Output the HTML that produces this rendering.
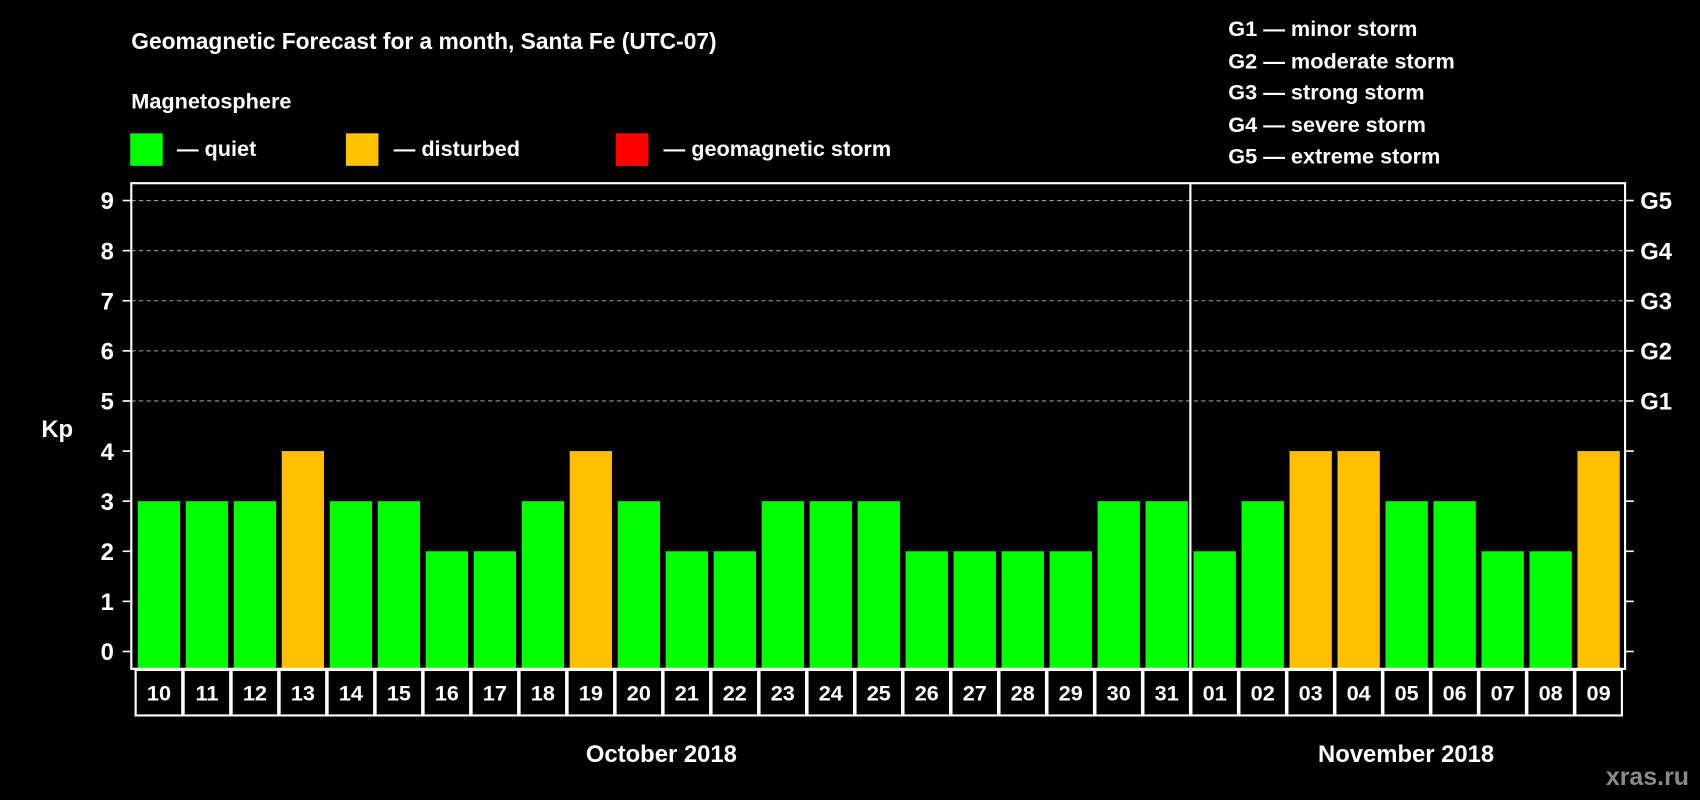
<!DOCTYPE html>
<html><head><meta charset="utf-8"><style>
html,body{margin:0;padding:0;background:#000;}
svg{display:block;font-family:"Liberation Sans",Arial,sans-serif;font-weight:bold;}
</style></head><body>
<svg id="chart" width="1700" height="800" viewBox="0 0 1568 738" xmlns="http://www.w3.org/2000/svg">
<rect width="1568" height="738" fill="#000"/>
<text x="121" y="45" fill="#fff" font-size="21">Geomagnetic Forecast for a month, Santa Fe (UTC-07)</text>
<text x="121" y="100" fill="#fff" font-size="20">Magnetosphere</text>
<g><rect x="120" y="123" width="30" height="30" fill="#00ff00"/><text x="163" y="144" fill="#fff" font-size="20">— quiet</text></g>
<g><rect x="319" y="123" width="30" height="30" fill="#ffc000"/><text x="363" y="144" fill="#fff" font-size="20">— disturbed</text></g>
<g><rect x="568" y="123" width="30" height="30" fill="#ff0000"/><text x="612" y="144" fill="#fff" font-size="20">— geomagnetic storm</text></g>
<g fill="#fff" font-size="20">
<text x="1133" y="33">G1 — minor storm</text>
<text x="1133" y="63">G2 — moderate storm</text>
<text x="1133" y="92">G3 — strong storm</text>
<text x="1133" y="122">G4 — severe storm</text>
<text x="1133" y="151">G5 — extreme storm</text>
</g>
<text x="38" y="403" fill="#fff" font-size="22">Kp</text>
<g id="grid"></g>
<g id="bars"></g>
<g id="xlabels"></g>
<rect x="121" y="169" width="1378" height="448" fill="none" stroke="#fff" stroke-width="2"/>
<line x1="1098" y1="169" x2="1098" y2="660" stroke="#fff" stroke-width="2"/>
<text x="610" y="703" fill="#fff" font-size="22" text-anchor="middle">October 2018</text>
<text x="1297" y="703" fill="#fff" font-size="22" text-anchor="middle">November 2018</text>
<text x="1558" y="724" fill="#8a8a8a" font-size="23" text-anchor="end">xras.ru</text>
</svg>
<script>
const days = ["10","11","12","13","14","15","16","17","18","19","20","21","22","23","24","25","26","27","28","29","30","31","01","02","03","04","05","06","07","08","09"];
const kpValues = [3,3,3,4,3,3,2,2,3,4,3,2,2,3,3,3,2,2,2,2,3,3,2,3,4,4,3,3,2,2,4];
const yTicks = [0,1,2,3,4,5,6,7,8,9];
const gLabels = ["G1","G2","G3","G4","G5"];
const NS="http://www.w3.org/2000/svg";
function y(v){return 601-v*46.22;}
function x(i){return 127+i*44.27;}
const bw=39;
function mk(tag,attrs,parent){const e=document.createElementNS(NS,tag);for(const k in attrs)e.setAttribute(k,attrs[k]);parent.appendChild(e);return e;}
const grid=document.getElementById('grid');
yTicks.forEach(v=>{
  const yy=y(v);
  if(v>=5){const l=mk('line',{x1:121,x2:1499,y1:yy,y2:yy,stroke:'#999','stroke-dasharray':'4,3','stroke-width':1},grid);
  
  }
  mk('line',{x1:113,x2:121,y1:yy,y2:yy,stroke:'#fff','stroke-width':1.5},grid);
  mk('line',{x1:1499,x2:1507,y1:yy,y2:yy,stroke:'#fff','stroke-width':1.5},grid);
  const t=mk('text',{x:105,y:yy+8,fill:'#fff','font-size':22,'text-anchor':'end'},grid);
  t.textContent=v;
  
  
});
gLabels.forEach((g,i)=>{
  const t=mk('text',{x:1513,y:y(5+i)+8,fill:'#fff','font-size':22},grid);
  t.textContent=g;
  
  
});
const bars=document.getElementById('bars');
const xl=document.getElementById('xlabels');
kpValues.forEach((v,i)=>{
  const c=v>=5?'#ff0000':(v>=4?'#ffc000':'#00ff00');
  const r=mk('rect',{x:x(i),y:y(v),width:bw,height:617-y(v),fill:c},bars);
  
  
  const cx=x(i)+bw/2;
  const cell=mk('rect',{x:cx-21.5,y:618,width:43,height:42,fill:'none',stroke:'#fff','stroke-width':2},xl);
  
  
  const t=mk('text',{x:cx,y:646,fill:'#fff','font-size':20,'text-anchor':'middle'},xl);
  t.textContent=days[i];
  
  
});
</script>
</body></html>
